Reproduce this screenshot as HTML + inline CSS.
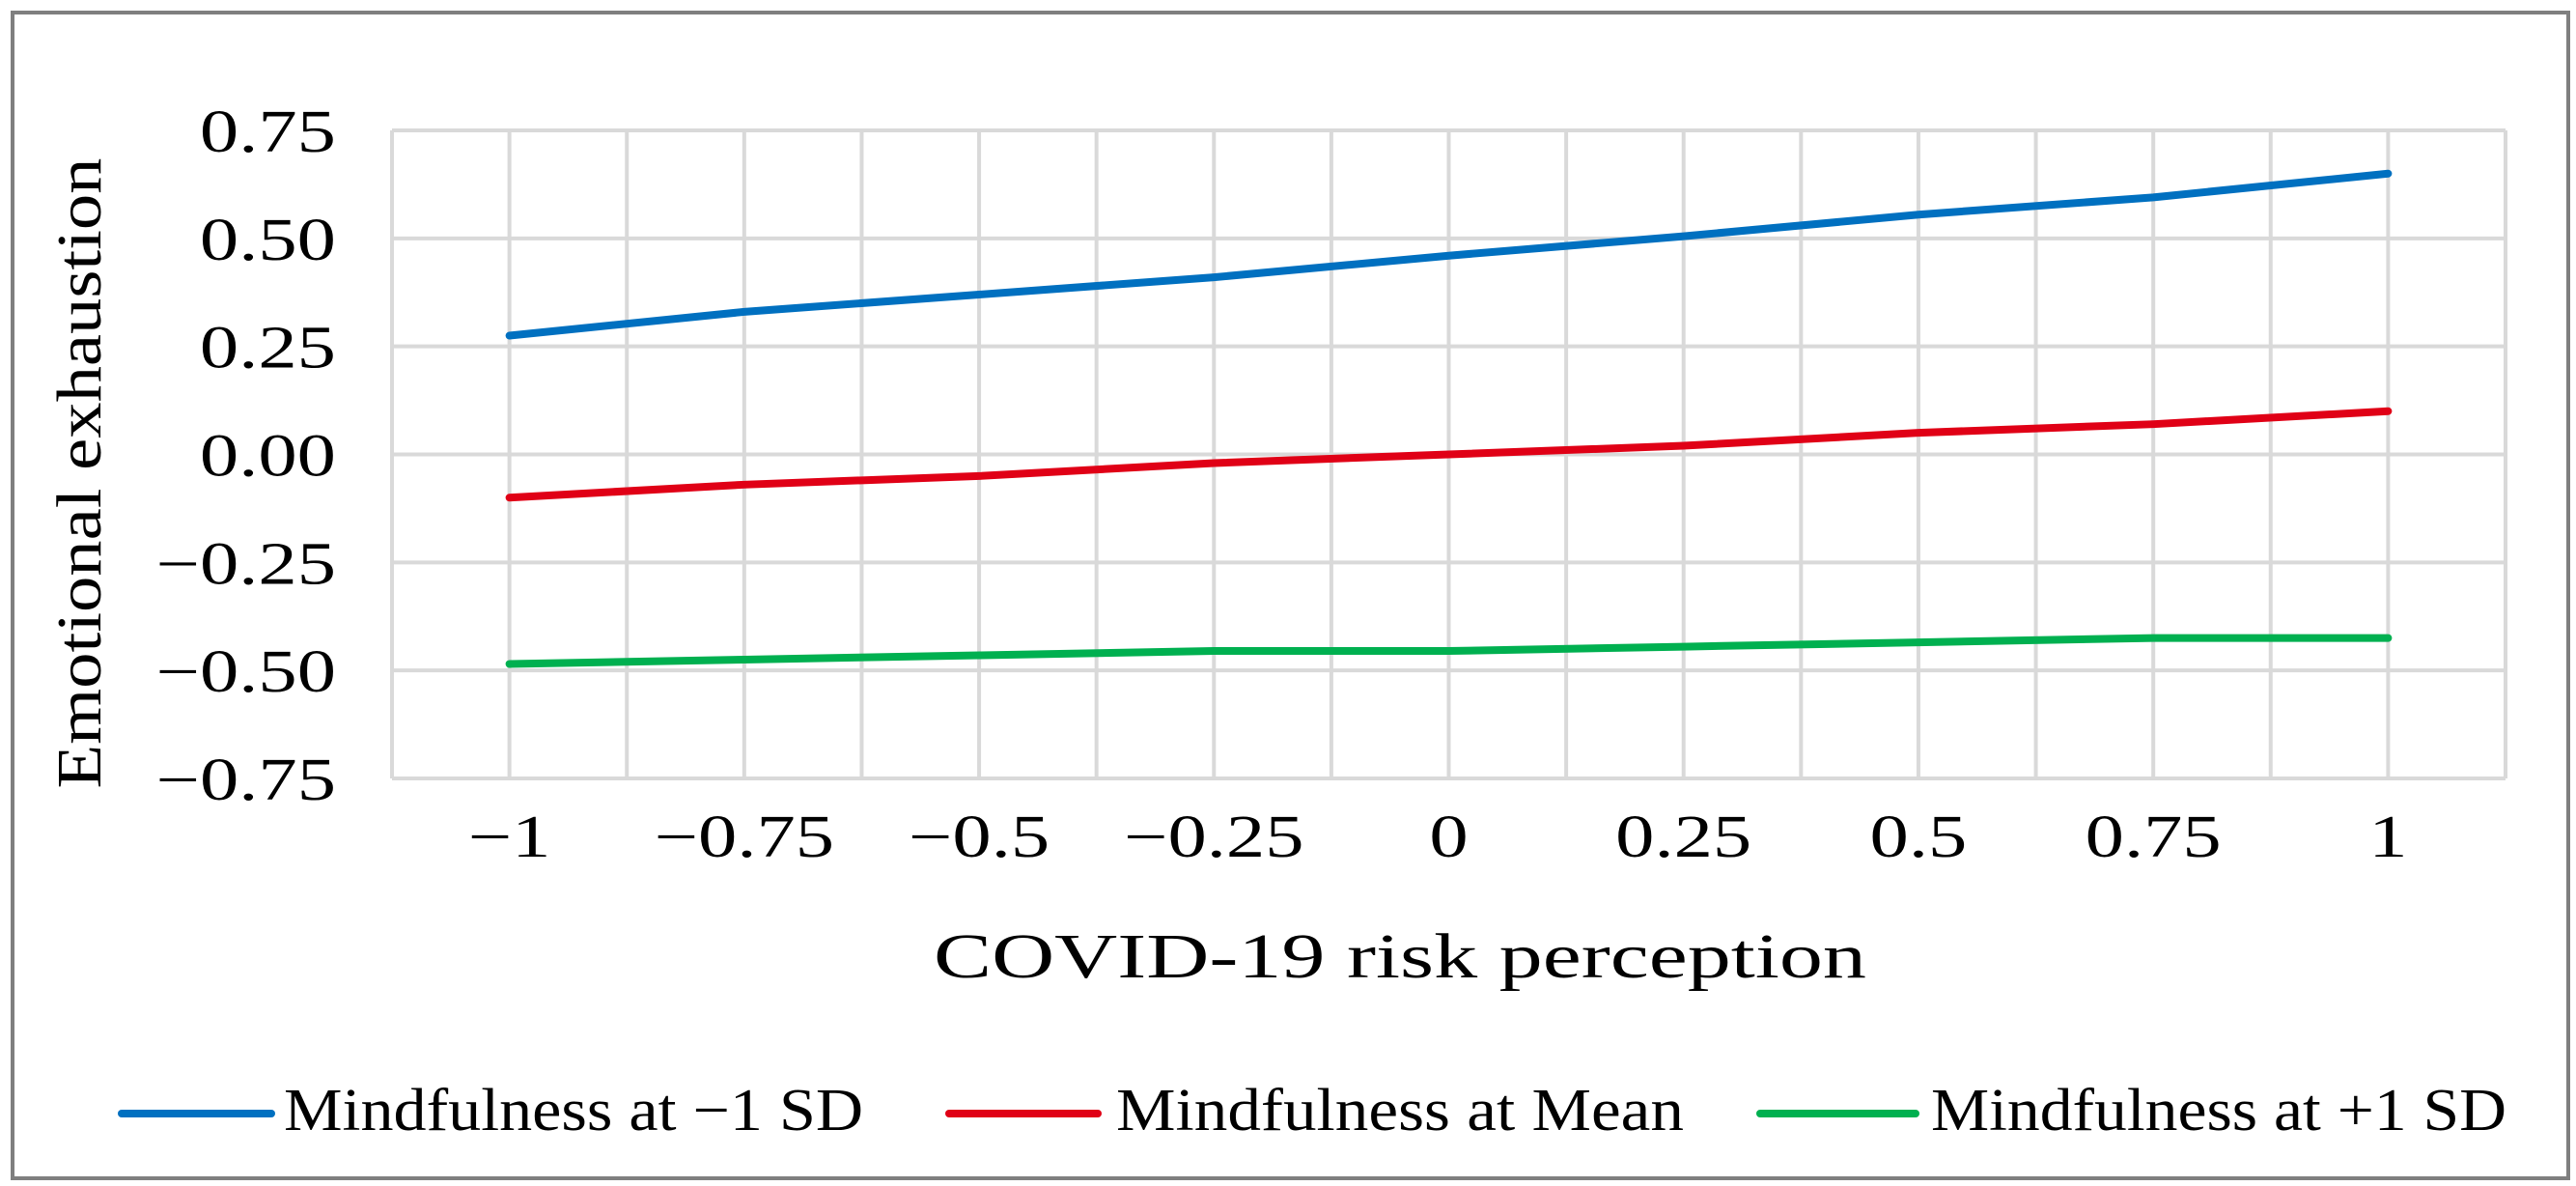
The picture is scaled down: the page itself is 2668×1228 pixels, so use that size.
<!DOCTYPE html>
<html><head><meta charset="utf-8"><style>
html,body{margin:0;padding:0;background:#fff;}
svg{display:block;font-family:"Liberation Serif",serif;}
</style></head><body>
<svg id="chart" width="2668" height="1228" viewBox="0 0 2668 1228">
<rect x="13" y="13" width="2647" height="1207" fill="#fff" stroke="#7f7f7f" stroke-width="4"/>
<g id="grid"></g><g id="series"></g><g id="labels" font-size="62" fill="#000"></g>
<text class="wide" x="1450" y="1012" font-size="66" text-anchor="middle" data-w="966">COVID-19 risk perception</text>
<text class="wide" x="0" y="0" font-size="66" text-anchor="middle" data-w="653" transform="translate(104,490) rotate(-90)">Emotional exhaustion</text>
<g id="legend"></g>
</svg>
<script>
const xCats=[-1,-0.75,-0.5,-0.25,0,0.25,0.5,0.75,1];
const xTickLabels=["\u22121","\u22120.75","\u22120.5","\u22120.25","0","0.25","0.5","0.75","1"];
const yTicks=[0.75,0.5,0.25,0,-0.25,-0.5,-0.75];
const yTickLabels=["0.75","0.50","0.25","0.00","\u22120.25","\u22120.50","\u22120.75"];
const seriesNames=["Mindfulness at \u22121 SD","Mindfulness at Mean","Mindfulness at +1 SD"];
const seriesColors=["#0070c0","#e00016","#00b050"];
const lowSD=[0.275,0.33,0.37,0.41,0.46,0.505,0.555,0.595,0.65];
const meanVals=[-0.10,-0.07,-0.05,-0.02,0,0.02,0.05,0.07,0.10];
const highSD=[-0.485,-0.475,-0.465,-0.455,-0.455,-0.445,-0.435,-0.425,-0.425];
const seriesData=[lowSD,meanVals,highSD];

const NS="http://www.w3.org/2000/svg";
const L=406,R=2595,T=135,B=806;
const xMin=-1.125,xMax=1.125,yMin=-0.75,yMax=0.75;
function sx(v){return L+(v-xMin)/(xMax-xMin)*(R-L);}
function sy(v){return B-(v-yMin)/(yMax-yMin)*(B-T);}
function mk(tag,parent,attrs){const e=document.createElementNS(NS,tag);for(const k in attrs)e.setAttribute(k,attrs[k]);parent.appendChild(e);return e;}
const grid=document.getElementById('grid');
for(let i=0;i<=18;i++){
  const v=xMin+i*0.125;
  const g=mk('line',grid,{x1:sx(v),x2:sx(v),y1:T,y2:B,stroke:'#d9d9d9','stroke-width':4});
  
  
}
yTicks.forEach(v=>{
  const g=mk('line',grid,{x1:L,x2:R,y1:sy(v),y2:sy(v),stroke:'#d9d9d9','stroke-width':4});
  
  
});
const lab=document.getElementById('labels');
yTicks.forEach((v,i)=>{
  const t=mk('text',lab,{x:348,y:sy(v)+22,'text-anchor':'end',class:'wide'});
  t.textContent=yTickLabels[i];
  
  
});
xCats.forEach((v,i)=>{
  const t=mk('text',lab,{x:sx(v),y:887,'text-anchor':'middle',class:'wide'});
  t.textContent=xTickLabels[i];
  
  
});
const ser=document.getElementById('series');
seriesData.forEach((d,si)=>{
  const pts=d.map((v,i)=>sx(xCats[i])+','+sy(v)).join(' ');
  const p=mk('polyline',ser,{points:pts,fill:'none',stroke:seriesColors[si],'stroke-width':8,'stroke-linecap':'round','stroke-linejoin':'round'});
  
  
});
const leg=document.getElementById('legend');
const legLine=[[126,281],[983,1137],[1823,1984]];
const legText=[294,1156,2000];
const legW=[600,588,596];
seriesNames.forEach((n,i)=>{
  const g=mk('g',leg,{});
  
  
  mk('line',g,{x1:legLine[i][0],x2:legLine[i][1],y1:1153,y2:1153,stroke:seriesColors[i],'stroke-width':8,'stroke-linecap':'round'});
  const t=mk('text',g,{x:legText[i],y:1170,'font-size':62,class:'wide','data-w':legW[i]});
  t.textContent=n;
});
document.querySelectorAll('.wide').forEach(t=>{
  const w=t.getAttribute('data-w');
  const nat=t.getComputedTextLength();
  t.setAttribute('textLength', w?w:nat*1.3);
  t.setAttribute('lengthAdjust','spacingAndGlyphs');
});
</script>
</body></html>
